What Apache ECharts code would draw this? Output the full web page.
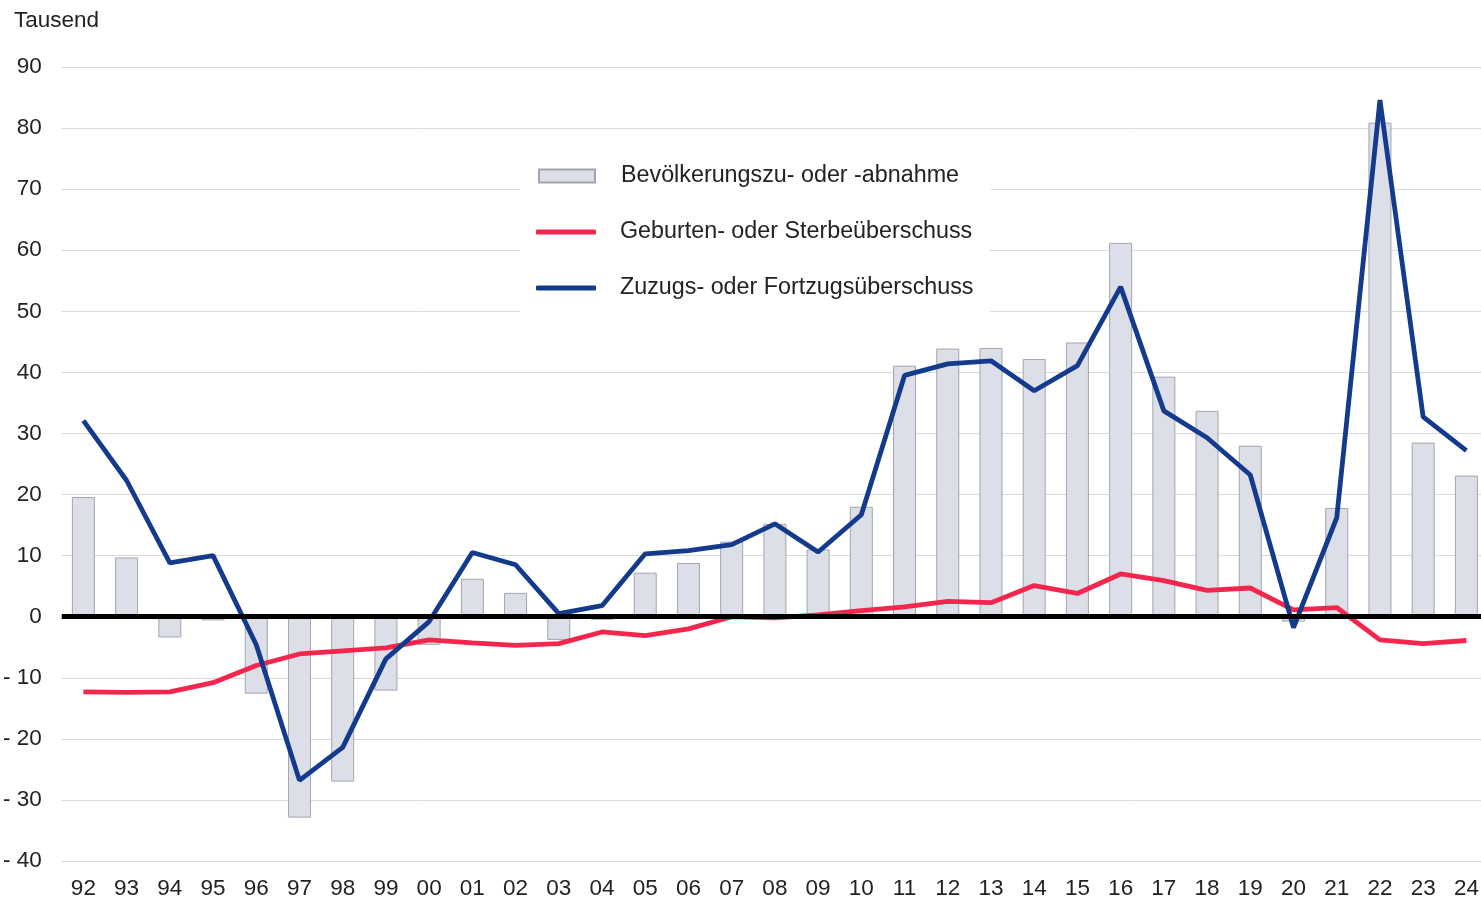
<!DOCTYPE html>
<html><head><meta charset="utf-8">
<script src="https://cdn.jsdelivr.net/npm/echarts@6/dist/echarts.min.js"></script>
<style>html,body{margin:0;padding:0;background:#fff;overflow:hidden;width:1481px;height:900px}#c{width:1488px;height:900px}</style>
</head><body><div id="c"></div>
<script>
const categories = ['92','93','94','95','96','97','98','99','00','01','02','03','04','05','06','07','08','09','10','11','12','13','14','15','16','17','18','19','20','21','22','23','24'];
const populationChange = [19.6,9.7,-3.4,-0.6,-12.6,-32.9,-27.0,-12.1,-4.6,6.2,3.9,-3.8,-0.5,7.2,8.8,12.3,15.2,11.0,18.0,41.1,43.9,44.0,42.2,44.9,61.2,39.3,33.7,28.0,-0.8,17.8,80.9,28.5,23.1];
const naturalBalance = [-12.3,-12.4,-12.3,-10.8,-8.0,-6.1,-5.6,-5.1,-3.8,-4.3,-4.7,-4.4,-2.5,-3.1,-2.0,0.0,-0.2,0.3,1.0,1.6,2.5,2.3,5.1,3.8,7.0,5.9,4.3,4.7,1.1,1.5,-3.8,-4.4,-3.9];
const migrationBalance = [32.1,22.3,8.8,10.0,-4.6,-26.8,-21.4,-6.9,-0.8,10.5,8.5,0.5,1.8,10.3,10.8,11.8,15.2,10.6,16.7,39.5,41.4,41.9,37.0,41.1,54.0,33.7,29.3,23.2,-1.8,16.2,84.6,32.7,27.2];
const seriesNames = ['Bevölkerungszu- oder -abnahme','Geburten- oder Sterbeüberschuss','Zuzugs- oder Fortzugsüberschuss'];
const unitLabel = 'Tausend';

const chart = echarts.init(document.getElementById('c'), null, {renderer:'canvas'});
const font = 'Liberation Sans, Arial, sans-serif';
const legendText = {fontFamily:font,fontSize:23.3,color:'#222',lineHeight:28,width:358,padding:[0,0,0,0]};
chart.setOption({
  animation:false,
  backgroundColor:'#fff',
  textStyle:{fontFamily:font},
  title:{text:unitLabel,left:9,top:4,textStyle:{fontFamily:font,fontSize:22.5,fontWeight:'normal',color:'#222'}},
  legend:[
    {
      orient:'vertical',left:520,top:140,
      backgroundColor:'#fff',padding:[22,12,14,18],
      itemWidth:56,itemHeight:13,itemGap:28,
      textStyle:Object.assign({},legendText,{padding:[0,0,0,21]}),
      data:[{name:seriesNames[0],icon:'rect'}],
      z:10
    },
    {
      orient:'vertical',left:520,top:204,
      backgroundColor:'#fff',padding:[14,12,18,16],
      itemWidth:60,itemHeight:5,itemGap:28,
      textStyle:Object.assign({},legendText,{padding:[0,0,0,19]}),
      data:[{name:seriesNames[1],icon:'roundRect'},{name:seriesNames[2],icon:'roundRect'}],
      z:10
    }
  ],
  grid:{left:59,right:0,top:67,bottom:39,containLabel:false},
  xAxis:{
    type:'category',data:categories,boundaryGap:true,
    axisLine:{show:false},axisTick:{show:false},
    axisLabel:{fontFamily:font,fontSize:22.5,color:'#222',margin:16,interval:0}
  },
  yAxis:{
    type:'value',min:-40,max:90,interval:10,
    axisLine:{show:false},axisTick:{show:false},
    splitLine:{lineStyle:{color:'#d9d9d9',width:1}},
    axisLabel:{fontFamily:font,fontSize:22.5,color:'#222',margin:20,
      formatter:v=>v<0?'- '+(-v):String(v)}
  },
  series:[
    {name:seriesNames[0],type:'bar',data:populationChange,barWidth:23,
     itemStyle:{color:'#dcdfe7',borderColor:'#a2a5ad',borderWidth:1},
     markLine:{silent:true,symbol:'none',label:{show:false},
       lineStyle:{color:'#000',width:5,type:'solid'},data:[{yAxis:0}]},
     z:2},
    {name:seriesNames[1],type:'line',data:naturalBalance,symbol:'none',
     lineStyle:{color:'#f5264e',width:4.8},itemStyle:{color:'#f5264e'},z:3},
    {name:seriesNames[2],type:'line',data:migrationBalance,symbol:'none',
     lineStyle:{color:'#143a8c',width:4.8},itemStyle:{color:'#143a8c'},z:4}
  ]
});
</script></body></html>
